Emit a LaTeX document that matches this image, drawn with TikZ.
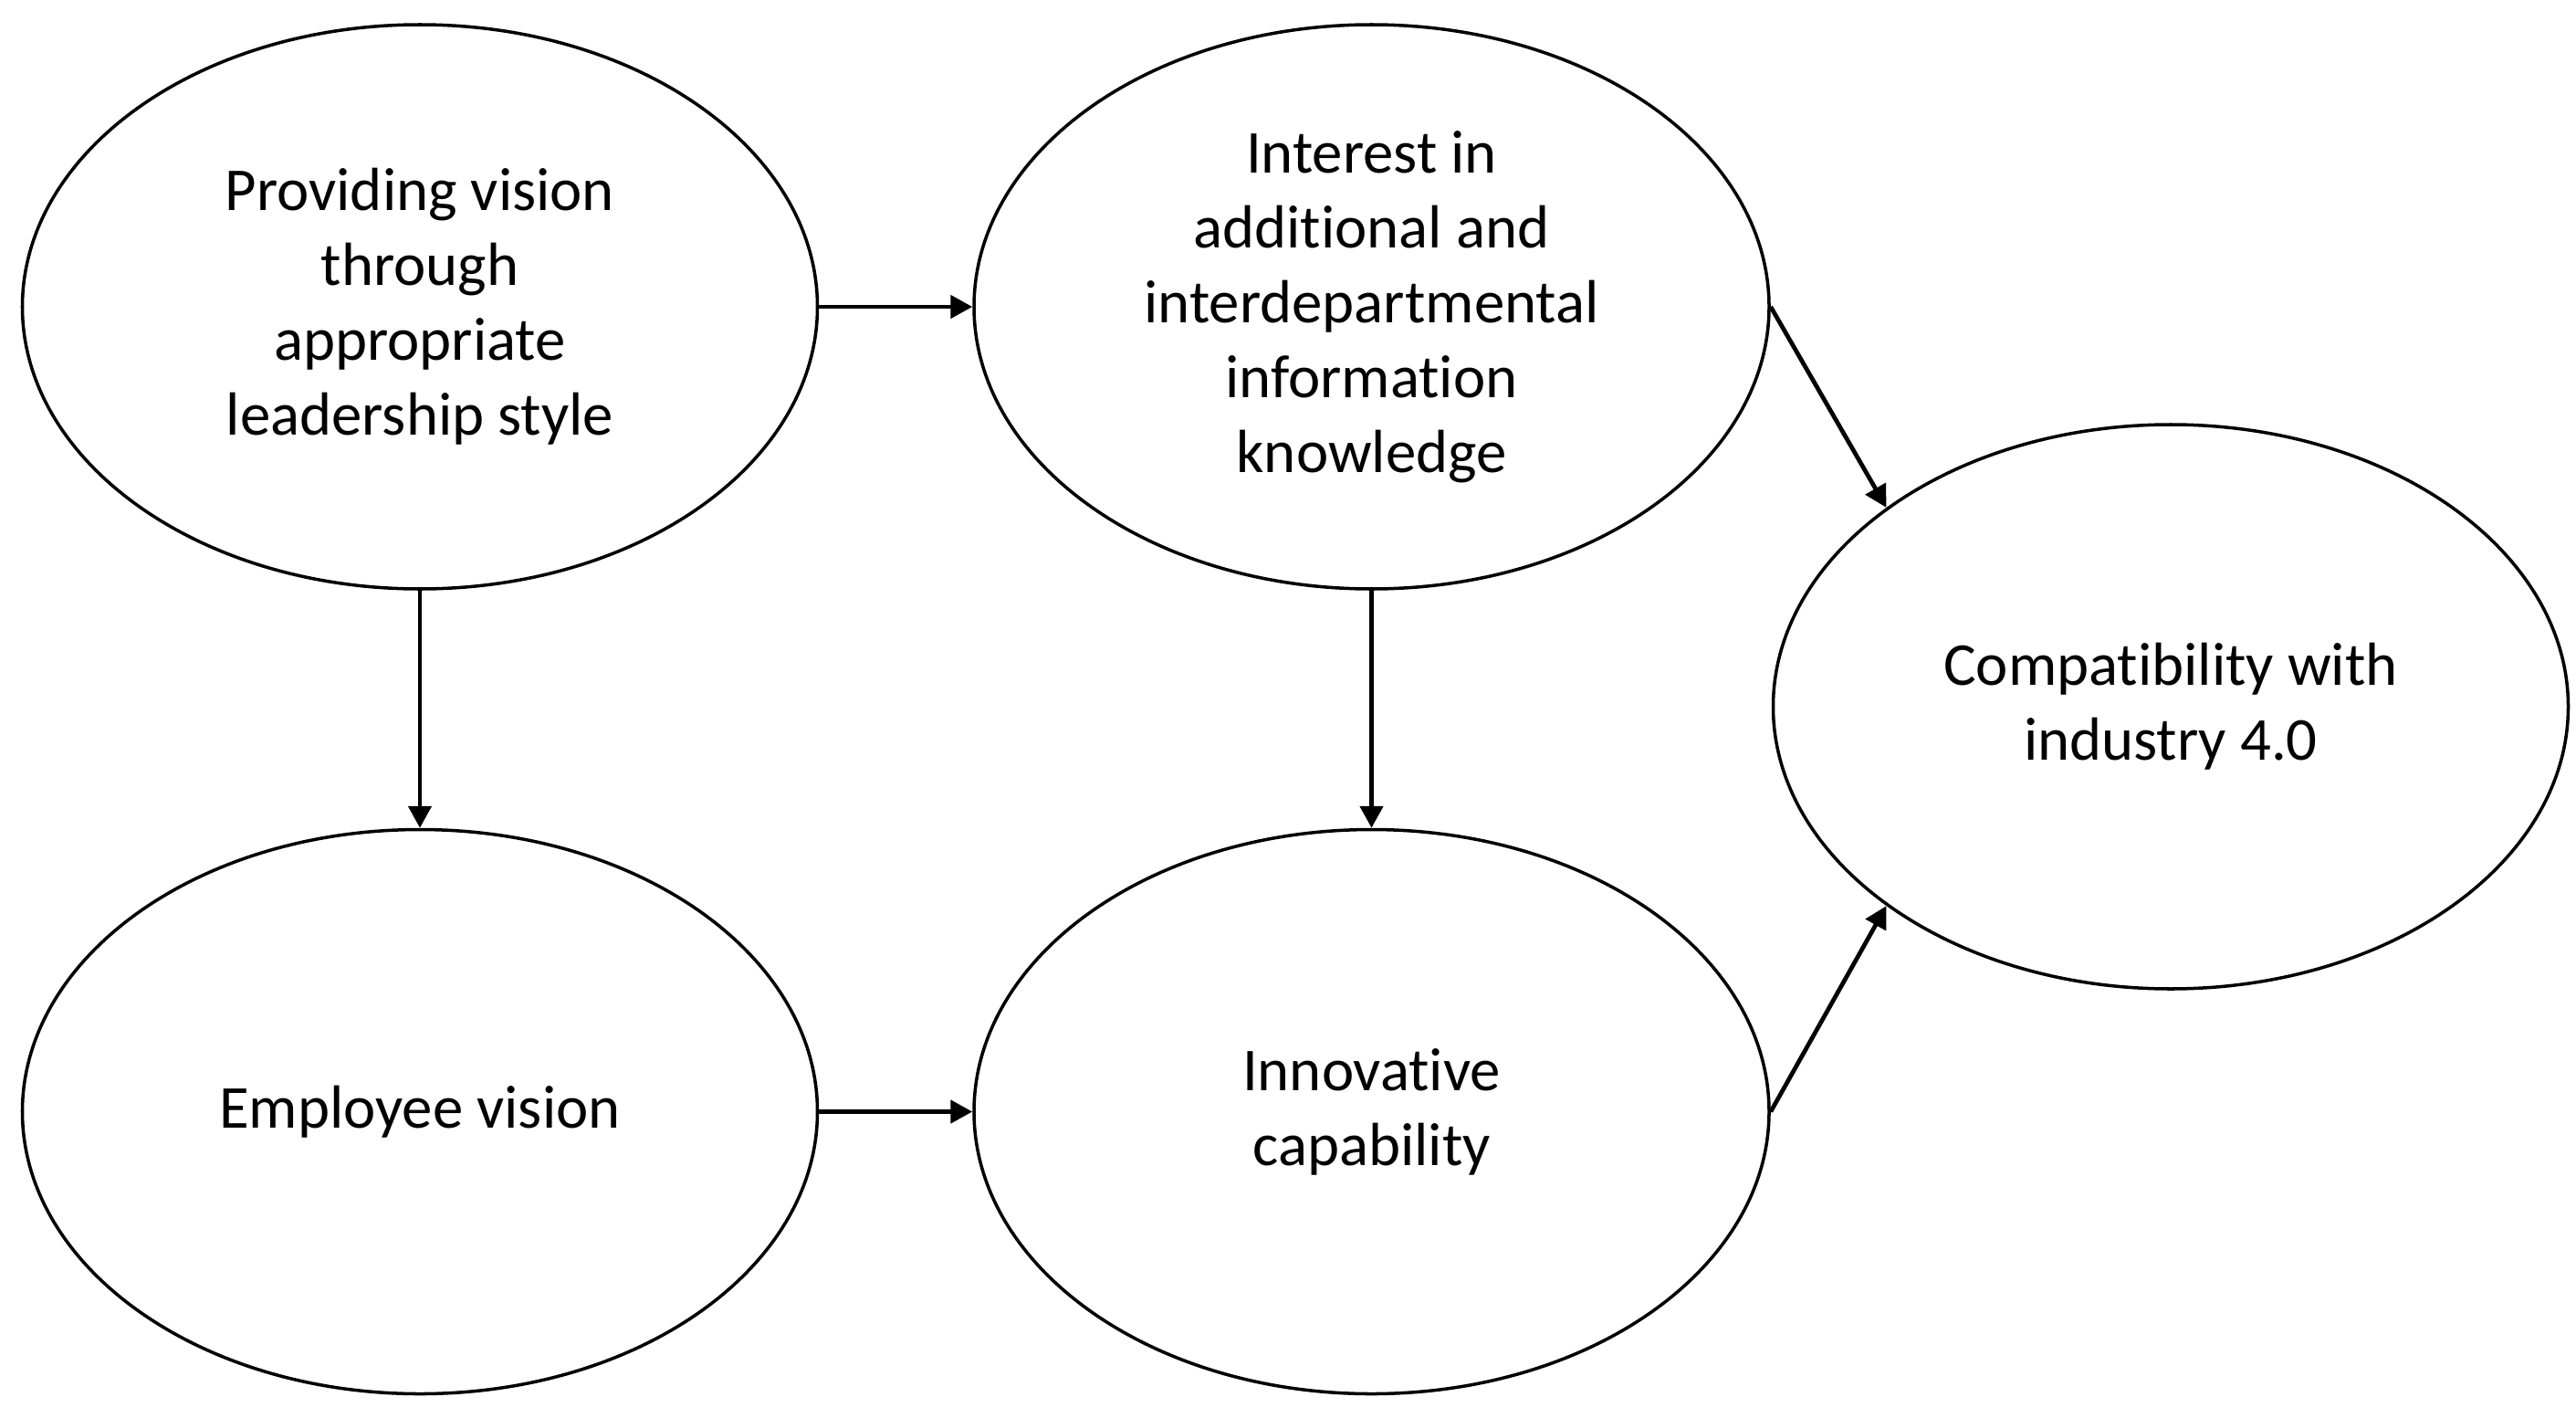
\documentclass[tikz,border=0pt]{standalone}
\usepackage{fontspec}
\setmainfont{Carlito}[Ligatures={NoCommon,NoContextual},RawFeature={-liga;-clig;-dlig;-calt}]
\usepackage{tikz}
\usetikzlibrary{arrows.meta, positioning, shapes.geometric, calc}

\begin{document}
\begin{tikzpicture}[-{Triangle[length=0.24cm,width=0.25cm]},line width=1.35pt,
                    oval node/.style={ellipse,draw,line width=1pt,inner sep=0pt,
                    minimum width=8.71cm,minimum height=6.18cm,align=center,
                    font=\fontsize{19pt}{23.3pt}\selectfont}]

  \useasboundingbox (0,0) rectangle (28.22,-15.53);

  \node[oval node] (vision) at (4.60,-3.36) {Providing vision\\through\\appropriate\\leadership style};
  \node[oval node] (interest) [right=1.68cm of vision] {Interest in\\additional and\\interdepartmental\\information\\knowledge};
  \node[oval node] (employee) [below=2.6cm of vision] {Employee vision};
  \node[oval node] (innov) [below=2.6cm of interest] {Innovative\\capability};
  \node[oval node] (compat) at (23.78,-7.74) {Compatibility with\\industry 4.0};

  \path
    (vision) edge (interest)
    edge (employee)
    (interest) edge (innov)
    (employee) edge (innov)
    (interest.east) edge (compat.145)
    (innov.east) edge (compat.215);

\end{tikzpicture}
\end{document}
